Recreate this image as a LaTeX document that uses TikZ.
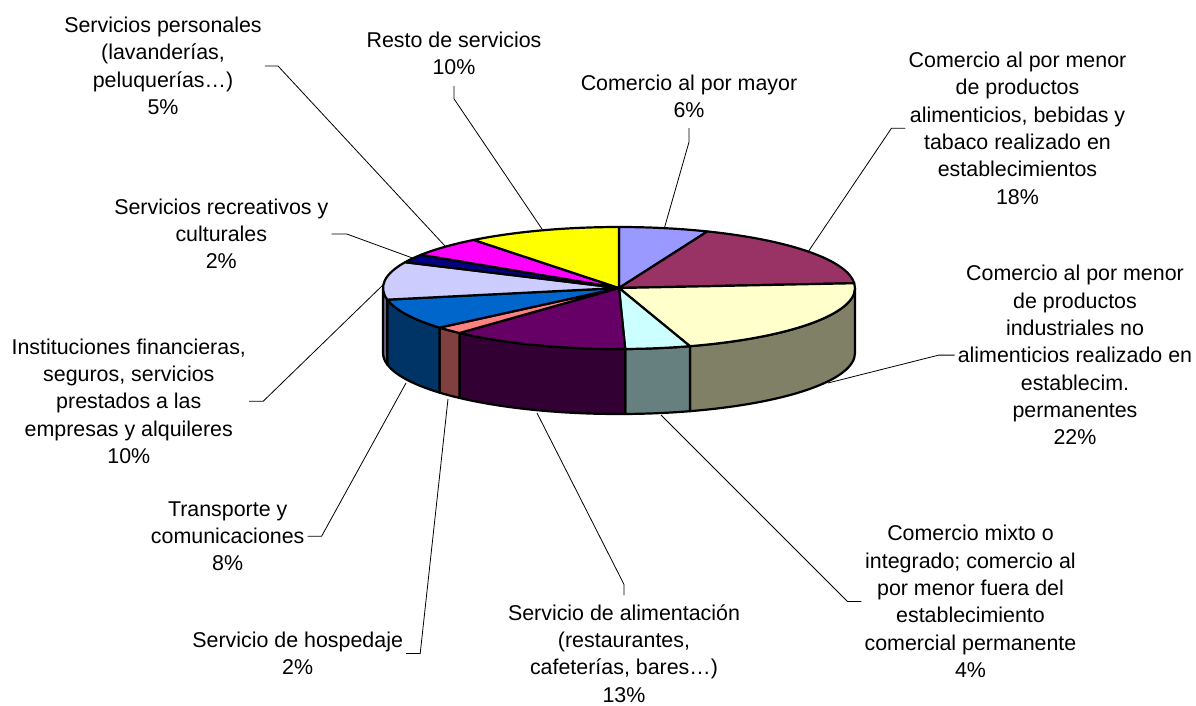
\documentclass[tikz,border=0pt]{standalone}
\usepackage{fontspec}
\setmainfont{Liberation Sans}

% slice colours (top face) and their darker side faces
\definecolor{cMayor}{HTML}{9999FF}
\definecolor{cAlim}{HTML}{993366}
\definecolor{cIndus}{HTML}{FFFFCC}
\definecolor{cMixto}{HTML}{CCFFFF}
\definecolor{cRest}{HTML}{660066}
\definecolor{cHosp}{HTML}{FF8080}
\definecolor{cTrans}{HTML}{0066CC}
\definecolor{cInst}{HTML}{CCCCFF}
\definecolor{cRecr}{HTML}{000080}
\definecolor{cPers}{HTML}{FF00FF}
\definecolor{cResto}{HTML}{FFFF00}
\definecolor{sIndus}{HTML}{808066}
\definecolor{sMixto}{HTML}{668080}
\definecolor{sRest}{HTML}{330033}
\definecolor{sHosp}{HTML}{804040}
\definecolor{sTrans}{HTML}{003366}
\definecolor{sInst}{HTML}{666680}

\tikzset{
  lbl/.style={align=center, inner sep=3pt, anchor=north, font=\fontsize{21.4}{27.3}\selectfont},
  leader/.style={line width=0.8pt},
  slice/.style={draw, line width=2.2pt, line join=round},
  ell/.style={x radius=236, y radius=61}
}

\begin{document}
\begin{tikzpicture}[x=1pt, y=-1pt]
   \useasboundingbox (0,0) rectangle (1196,705);

   % pie, centre of the top face
   \begin{scope}[shift={(619,288)}]
   % side faces
   \filldraw[slice, fill=sIndus] (0:236 and 61) arc[ell, start angle=0, end angle=72.5] -- ++(0,65) arc[ell, start angle=72.5, end angle=0] -- cycle;
   \filldraw[slice, fill=sMixto] (72.5:236 and 61) arc[ell, start angle=72.5, end angle=88.5] -- ++(0,65) arc[ell, start angle=88.5, end angle=72.5] -- cycle;
   \filldraw[slice, fill=sRest] (88.5:236 and 61) arc[ell, start angle=88.5, end angle=132.5] -- ++(0,65) arc[ell, start angle=132.5, end angle=88.5] -- cycle;
   \filldraw[slice, fill=sHosp] (132.5:236 and 61) arc[ell, start angle=132.5, end angle=139.5] -- ++(0,65) arc[ell, start angle=139.5, end angle=132.5] -- cycle;
   \filldraw[slice, fill=sTrans] (139.5:236 and 61) arc[ell, start angle=139.5, end angle=169] -- ++(0,65) arc[ell, start angle=169, end angle=139.5] -- cycle;
   \filldraw[slice, fill=sInst] (169:236 and 61) arc[ell, start angle=169, end angle=180] -- ++(0,65) arc[ell, start angle=180, end angle=169] -- cycle;

   % top faces
   \filldraw[slice, fill=cMayor] (0,0) -- (-90:236 and 61) arc[ell, start angle=-90, end angle=-68] -- cycle;
   \filldraw[slice, fill=cAlim] (0,0) -- (-68:236 and 61) arc[ell, start angle=-68, end angle=-4.5] -- cycle;
   \filldraw[slice, fill=cIndus] (0,0) -- (-4.5:236 and 61) arc[ell, start angle=-4.5, end angle=72.5] -- cycle;
   \filldraw[slice, fill=cMixto] (0,0) -- (72.5:236 and 61) arc[ell, start angle=72.5, end angle=88.5] -- cycle;
   \filldraw[slice, fill=cRest] (0,0) -- (88.5:236 and 61) arc[ell, start angle=88.5, end angle=132.5] -- cycle;
   \filldraw[slice, fill=cHosp] (0,0) -- (132.5:236 and 61) arc[ell, start angle=132.5, end angle=139.5] -- cycle;
   \filldraw[slice, fill=cTrans] (0,0) -- (139.5:236 and 61) arc[ell, start angle=139.5, end angle=169] -- cycle;
   \filldraw[slice, fill=cInst] (0,0) -- (169:236 and 61) arc[ell, start angle=169, end angle=205] -- cycle;
   \filldraw[slice, fill=cRecr] (0,0) -- (205:236 and 61) arc[ell, start angle=205, end angle=213] -- cycle;
   \filldraw[slice, fill=cPers] (0,0) -- (213:236 and 61) arc[ell, start angle=213, end angle=232] -- cycle;
   \filldraw[slice, fill=cResto] (0,0) -- (232:236 and 61) arc[ell, start angle=232, end angle=270] -- cycle;
   \end{scope}

   % where the leaders touch the pie
   \coordinate (pmayor) at (664.3,228.3);
   \coordinate (pmenor) at (808,252);
   \coordinate (pindus) at (828,383);
   \coordinate (pmixto) at (661,415);
   \coordinate (palim) at (537,413);
   \coordinate (phosp) at (448,399);
   \coordinate (ptrans) at (406,383);
   \coordinate (pinst) at (385,283);
   \coordinate (precr) at (413.3,258.3);
   \coordinate (ppers) at (445,246);
   \coordinate (presto) at (542,229);

   % labels
   \node[lbl] (lmayor) at (689,71.6) {Comercio al por mayor\\6\%};
   \node[lbl] (lmenor) at (1017.5,48.9) {Comercio al por menor\\de productos\\alimenticios, bebidas y\\tabaco realizado en\\establecimientos\\18\%};
   \node[lbl] (lindus) at (1075,262.2) {Comercio al por menor\\de productos\\industriales no\\alimenticios realizado en\\establecim.\\permanentes\\22\%};
   \node[lbl] (lmixto) at (970.5,522.2) {Comercio mixto o\\integrado; comercio al\\por menor fuera del\\establecimiento\\comercial permanente\\4\%};
   \node[lbl] (lalim) at (624,601.4) {Servicio de alimentación\\(restaurantes,\\cafeterías, bares…)\\13\%};
   \node[lbl] (lhosp) at (297.7,628.9) {Servicio de hospedaje\\2\%};
   \node[lbl] (ltrans) at (227.7,498.2) {Transporte y\\comunicaciones\\8\%};
   \node[lbl] (linst) at (128.8,335.6) {Instituciones financieras,\\seguros, servicios\\prestados a las\\empresas y alquileres\\10\%};
   \node[lbl] (lrecr) at (221.3,195.6) {Servicios recreativos y\\culturales\\2\%};
   \node[lbl] (lpers) at (163,13.9) {Servicios personales\\(lavanderías,\\peluquerías…)\\5\%};
   \node[lbl] (lresto) at (454,28.9) {Resto de servicios\\10\%};

   % leaders
   \draw[leader] ([yshift=-7pt]lmayor.south) -- ++(0,14) -- (pmayor);
   \draw[leader] (lmenor.west) -- ++(-14,0) -- (pmenor);
   \draw[leader] (lindus.west) -- ++(-16,0) -- (pindus);
   \draw[leader] (lmixto.west) -- ++(-14,0) -- (pmixto);
   \draw[leader] ([yshift=6pt]lalim.north) -- ++(0,-11) -- (palim);
   \draw[leader] (lhosp.east) -- ++(14,0) -- (phosp);
   \draw[leader] (ltrans.east) -- ++(14,0) -- (ptrans);
   \draw[leader] (linst.east) -- ++(14,0) -- (pinst);
   \draw[leader] (lrecr.east) -- ++(15,0) -- (precr);
   \draw[leader] (lpers.east) -- ++(13,0) -- (ppers);
   \draw[leader] ([yshift=-7.5pt]lresto.south) -- ++(0,13) -- (presto);
\end{tikzpicture}
\end{document}
